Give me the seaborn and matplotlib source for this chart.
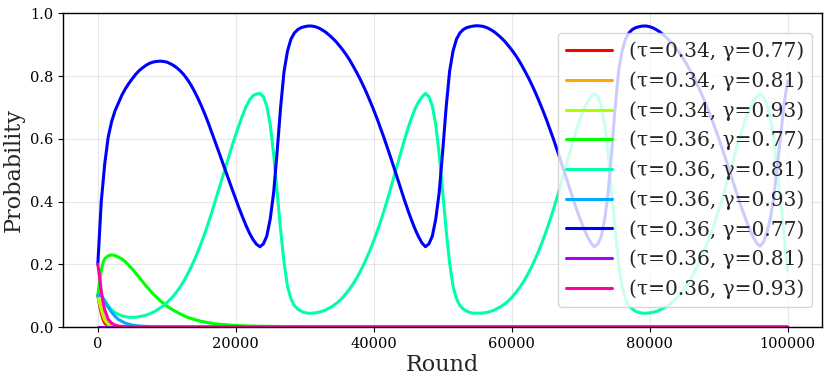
import numpy as np
import pandas as pd
import matplotlib
matplotlib.use("Agg")
import matplotlib.pyplot as plt
import seaborn as sns

# Legend labels, in drawing order
labels = [
    "(τ=0.34, γ=0.77)", "(τ=0.34, γ=0.81)", "(τ=0.34, γ=0.93)",
    "(τ=0.36, γ=0.77)", "(τ=0.36, γ=0.81)", "(τ=0.36, γ=0.93)",
    "(τ=0.36, γ=0.77)", "(τ=0.36, γ=0.81)", "(τ=0.36, γ=0.93)",
]

# Short-lived series
red_x = [0, 250, 500, 750, 1000, 1500, 2000, 3000, 100000]
red_y = [0.10, 0.07, 0.044, 0.025, 0.012, 0.003, 0.001, 0.0, 0.0]

orange_x = [0, 250, 500, 750, 1000, 1500, 2000, 3000, 100000]
orange_y = [0.10, 0.08, 0.06, 0.04, 0.025, 0.01, 0.003, 0.0, 0.0]

lime_x = [0, 250, 500, 750, 1000, 1500, 2000, 3000, 100000]
lime_y = [0.10, 0.078, 0.056, 0.037, 0.022, 0.008, 0.002, 0.0, 0.0]

green_x = [0, 250, 500, 750, 1000, 1500, 2000, 2500, 3000, 3500, 4000, 5000,
           6000, 7000, 8000, 9000, 10000, 11000, 12000, 13000, 14000, 15000,
           16000, 17000, 18000, 20000, 22000, 25000, 30000, 35000, 100000]
green_y = [0.10, 0.145, 0.18, 0.205, 0.218, 0.227, 0.23, 0.228, 0.223, 0.217,
           0.208, 0.185, 0.158, 0.131, 0.106, 0.085, 0.067, 0.053, 0.041,
           0.031, 0.024, 0.018, 0.014, 0.01, 0.008, 0.005, 0.003, 0.002,
           0.001, 0.0, 0.0]

sky_x = [0, 250, 500, 750, 1000, 1500, 2000, 2500, 3000, 4000, 5000, 6000,
         8000, 10000, 100000]
sky_y = [0.10, 0.103, 0.10, 0.092, 0.082, 0.063, 0.047, 0.034, 0.024, 0.012,
         0.006, 0.003, 0.001, 0.0, 0.0]

purple_x = [0, 100000]
purple_y = [0.0, 0.0]

pink_x = [0, 250, 500, 750, 1000, 1500, 2000, 2500, 3000, 4000, 5000, 100000]
pink_y = [0.20, 0.16, 0.115, 0.08, 0.055, 0.025, 0.012, 0.006, 0.003, 0.001,
          0.0, 0.0]

# Oscillating series, one value every 500 rounds
rounds = np.arange(0, 100001, 500)

aqua_y = [
    0.100, 0.100, 0.085, 0.068, 0.055, 0.046, 0.040, 0.036, 0.033, 0.031,
    0.031, 0.031, 0.033, 0.035, 0.038, 0.042, 0.047, 0.053, 0.060, 0.068,
    0.078, 0.088, 0.100, 0.114, 0.130, 0.148, 0.168, 0.190, 0.214, 0.240,
    0.268, 0.298, 0.330, 0.364, 0.400, 0.436, 0.472, 0.508, 0.544, 0.580,
    0.614, 0.646, 0.676, 0.703, 0.724, 0.738, 0.743,
    0.745, 0.735, 0.705, 0.645, 0.550, 0.430, 0.310, 0.205, 0.130, 0.090,
    0.068, 0.057, 0.050, 0.046, 0.044, 0.044, 0.045, 0.047, 0.050, 0.054,
    0.060, 0.066, 0.074, 0.083, 0.094, 0.107, 0.121, 0.137, 0.155, 0.175,
    0.197, 0.221, 0.247, 0.275, 0.305, 0.337, 0.371, 0.407, 0.445, 0.484,
    0.523, 0.562, 0.600, 0.636, 0.668, 0.696, 0.718, 0.734,
    0.745, 0.735, 0.705, 0.645, 0.550, 0.430, 0.310, 0.205, 0.130, 0.090,
    0.068, 0.057, 0.050, 0.046, 0.044, 0.044, 0.044, 0.045, 0.047, 0.050,
    0.054, 0.060, 0.066, 0.074, 0.083, 0.094, 0.107, 0.121, 0.137, 0.155,
    0.175, 0.197, 0.221, 0.247, 0.275, 0.305, 0.337, 0.371, 0.407, 0.445,
    0.484, 0.523, 0.562, 0.600, 0.636, 0.668, 0.696, 0.718, 0.734,
    0.745, 0.735, 0.705, 0.645, 0.550, 0.430, 0.310, 0.205, 0.130, 0.090,
    0.068, 0.057, 0.050, 0.046, 0.044, 0.044, 0.045, 0.047, 0.050, 0.054,
    0.060, 0.066, 0.074, 0.083, 0.094, 0.107, 0.121, 0.137, 0.155, 0.175,
    0.197, 0.221, 0.247, 0.275, 0.305, 0.337, 0.371, 0.407, 0.445, 0.484,
    0.523, 0.562, 0.600, 0.636, 0.668, 0.696, 0.718, 0.734,
    0.745, 0.735, 0.712, 0.670, 0.600, 0.500, 0.400, 0.290, 0.180,
]

blue_y = [
    0.200, 0.400, 0.520, 0.605, 0.655, 0.690, 0.715, 0.740, 0.760, 0.777,
    0.792, 0.806, 0.818, 0.827, 0.835, 0.841, 0.845, 0.847, 0.848, 0.847,
    0.845, 0.840, 0.834, 0.826, 0.816, 0.804, 0.789, 0.772, 0.752, 0.730,
    0.706, 0.680, 0.652, 0.622, 0.592, 0.561, 0.530, 0.499, 0.468, 0.438,
    0.408, 0.378, 0.350, 0.323, 0.299, 0.279, 0.264,
    0.256, 0.265, 0.290, 0.345, 0.430, 0.560, 0.700, 0.815, 0.880, 0.918,
    0.938, 0.949, 0.955, 0.958, 0.960, 0.960, 0.958, 0.954, 0.948, 0.941,
    0.932, 0.922, 0.911, 0.898, 0.884, 0.869, 0.852, 0.833, 0.813, 0.792,
    0.769, 0.745, 0.719, 0.692, 0.664, 0.634, 0.603, 0.571, 0.538, 0.504,
    0.470, 0.436, 0.402, 0.370, 0.340, 0.312, 0.288, 0.268,
    0.256, 0.265, 0.290, 0.345, 0.430, 0.560, 0.700, 0.815, 0.880, 0.918,
    0.938, 0.949, 0.955, 0.958, 0.960, 0.961, 0.960, 0.958, 0.954, 0.948,
    0.941, 0.932, 0.922, 0.911, 0.898, 0.884, 0.869, 0.852, 0.833, 0.813,
    0.792, 0.769, 0.745, 0.719, 0.692, 0.664, 0.634, 0.603, 0.571, 0.538,
    0.504, 0.470, 0.436, 0.402, 0.370, 0.340, 0.312, 0.288, 0.268,
    0.256, 0.265, 0.290, 0.345, 0.430, 0.560, 0.700, 0.815, 0.880, 0.918,
    0.938, 0.949, 0.955, 0.958, 0.960, 0.960, 0.958, 0.954, 0.948, 0.941,
    0.932, 0.922, 0.911, 0.898, 0.884, 0.869, 0.852, 0.833, 0.813, 0.792,
    0.769, 0.745, 0.719, 0.692, 0.664, 0.634, 0.603, 0.571, 0.538, 0.504,
    0.470, 0.436, 0.402, 0.370, 0.340, 0.312, 0.288, 0.268,
    0.258, 0.270, 0.300, 0.345, 0.415, 0.510, 0.610, 0.710, 0.785,
]


def build_series():
    xs = [red_x, orange_x, lime_x, green_x, rounds, sky_x, rounds, purple_x, pink_x]
    ys = [red_y, orange_y, lime_y, green_y, aqua_y, sky_y, blue_y, purple_y, pink_y]
    frames = []
    for i, (x, y) in enumerate(zip(xs, ys)):
        frames.append(pd.DataFrame({"Round": x, "Probability": y, "idx": i}))
    return frames


def plot(frames):
    sns.set_theme(style="ticks")
    plt.rcParams["font.family"] = "DejaVu Serif"

    fig, ax = plt.subplots(figsize=(8.3, 3.83), dpi=100)
    fig.subplots_adjust(left=0.0763, right=0.9904, bottom=0.1462, top=0.9648)

    colors = sns.hls_palette(9, h=0, l=0.5, s=1)
    for df, label, color in zip(frames, labels, colors):
        sns.lineplot(data=df, x="Round", y="Probability", color=color,
                     linewidth=2.2, label=label, ax=ax, sort=False)

    ax.set_ylim(0, 1.0)
    ax.set_xticks([0, 20000, 40000, 60000, 80000, 100000])
    ax.set_yticks([0.0, 0.2, 0.4, 0.6, 0.8, 1.0])
    ax.tick_params(labelsize=10.5, colors="black", length=3.5, width=0.8)
    ax.set_xlabel("Round", fontsize=16, labelpad=2)
    ax.set_ylabel("Probability", fontsize=16)
    ax.grid(True, color="#b0b0b0", alpha=0.3, linewidth=0.8)
    for s in ax.spines.values():
        s.set_color("black")
        s.set_linewidth(1.0)

    ax.legend(loc="center right", fontsize=14.5, handlelength=2.3)
    fig.savefig("out.png", dpi=100)


def main():
    frames = build_series()
    plot(frames)


if __name__ == "__main__":
    main()
